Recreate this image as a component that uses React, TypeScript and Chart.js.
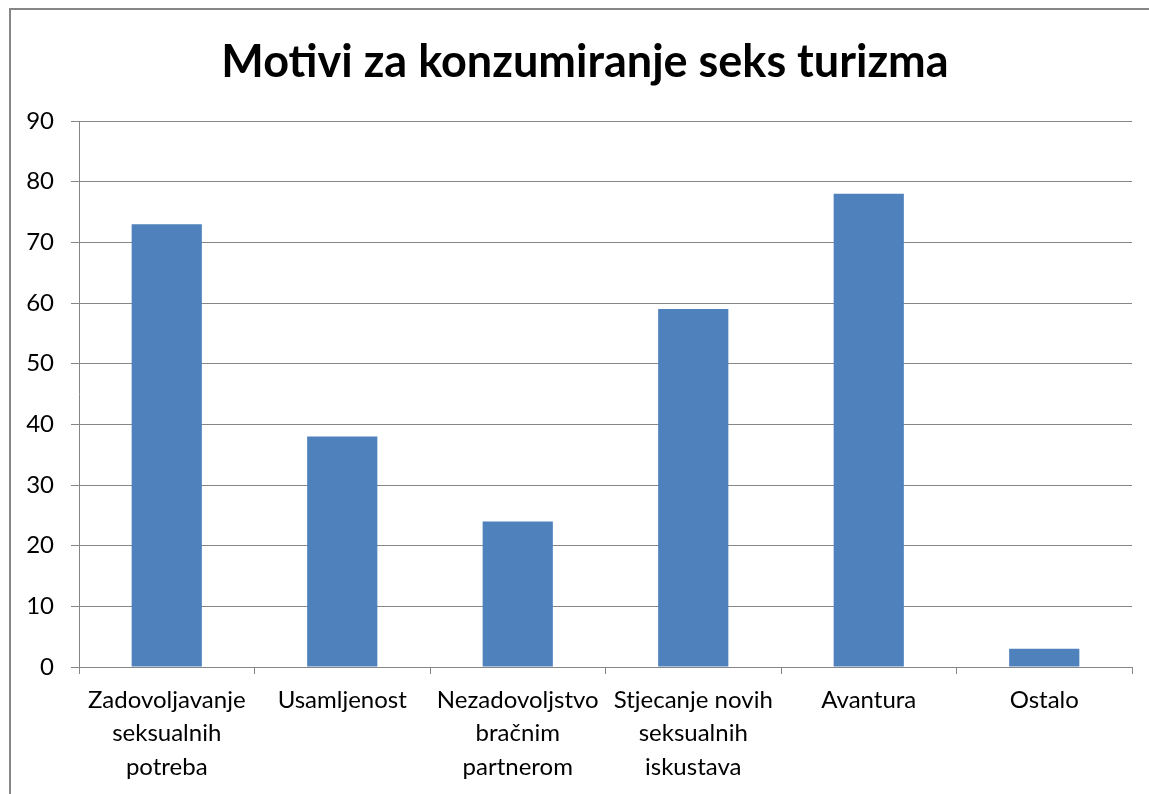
import React, { useEffect, useRef } from "react";
import { Chart, registerables } from "chart.js";

Chart.register(...registerables);

const TITLE = "Motivi za konzumiranje seks turizma";
const CATEGORIES: string[][] = [
  ["Zadovoljavanje", "seksualnih", "potreba"],
  ["Usamljenost"],
  ["Nezadovoljstvo", "bračnim", "partnerom"],
  ["Stjecanje novih", "seksualnih", "iskustava"],
  ["Avantura"],
  ["Ostalo"],
];
const VALUES: number[] = [73, 38, 24, 59, 78, 3];
const Y_MIN = 0;
const Y_MAX = 90;
const Y_STEP = 10;

const FONT = "Lato, 'Open Sans', sans-serif";
const GRID = "#868686";

const titleShift = {
  id: "titleShift",
  afterLayout(chart: any) {
    const t = chart.titleBlock;
    if (t) {
      t.left = 27;
    }
  },
};

export default function App() {
  const ref = useRef<HTMLCanvasElement | null>(null);
  useEffect(() => {
    if (!ref.current) return;
    const chart = new Chart(ref.current, {
      type: "bar",
      data: {
        labels: CATEGORIES,
        datasets: [
          {
            data: VALUES,
            backgroundColor: "#4F81BD",
            borderWidth: 0,
            barPercentage: 0.4,
            categoryPercentage: 1,
          },
        ],
      },
      plugins: [titleShift],
      options: {
        animation: false,
        responsive: false,
        maintainAspectRatio: false,
        layout: { padding: { left: 0, right: 17, top: 0, bottom: 0 } },
        plugins: {
          legend: { display: false },
          tooltip: { enabled: false },
          title: {
            display: true,
            text: TITLE,
            color: "#000",
            font: { family: FONT, size: 45, weight: "bold", lineHeight: 1.2 },
            padding: { top: 25, bottom: 32 },
          },
        },
        scales: {
          x: {
            grid: {
              display: true,
              offset: true,
              drawOnChartArea: false,
              drawTicks: true,
              tickLength: 7,
              color: GRID,
              lineWidth: 1,
            },
            border: { display: true, color: GRID, width: 1 },
            ticks: {
              color: "#000",
              font: { family: FONT, size: 24, lineHeight: 1.38 },
              padding: 10,
              maxRotation: 0,
              autoSkip: false,
            },
            afterFit: (s: any) => {
              s.height = 127;
            },
          },
          y: {
            min: Y_MIN,
            max: Y_MAX,
            grid: {
              display: true,
              drawTicks: true,
              tickLength: 8,
              color: GRID,
              lineWidth: 1,
            },
            border: { display: true, color: GRID, width: 1 },
            ticks: {
              stepSize: Y_STEP,
              color: "#000",
              font: { family: FONT, size: 24 },
              padding: 17,
            },
            afterFit: (s: any) => {
              s.width = 68;
            },
          },
        },
      },
    });
    return () => chart.destroy();
  }, []);

  return (
    <div
      style={{
        position: "fixed",
        left: 0,
        top: 0,
        width: 1149,
        height: 794,
        overflow: "hidden",
        background: "#fff",
      }}
    >
      <div
        style={{
          position: "absolute",
          left: 9,
          top: 8,
          width: 1140,
          height: 786,
          borderLeft: `2px solid ${GRID}`,
          borderTop: `2px solid ${GRID}`,
          boxSizing: "border-box",
        }}
      >
        <canvas ref={ref} width={1138} height={784} style={{ display: "block" }} />
      </div>
    </div>
  );
}
